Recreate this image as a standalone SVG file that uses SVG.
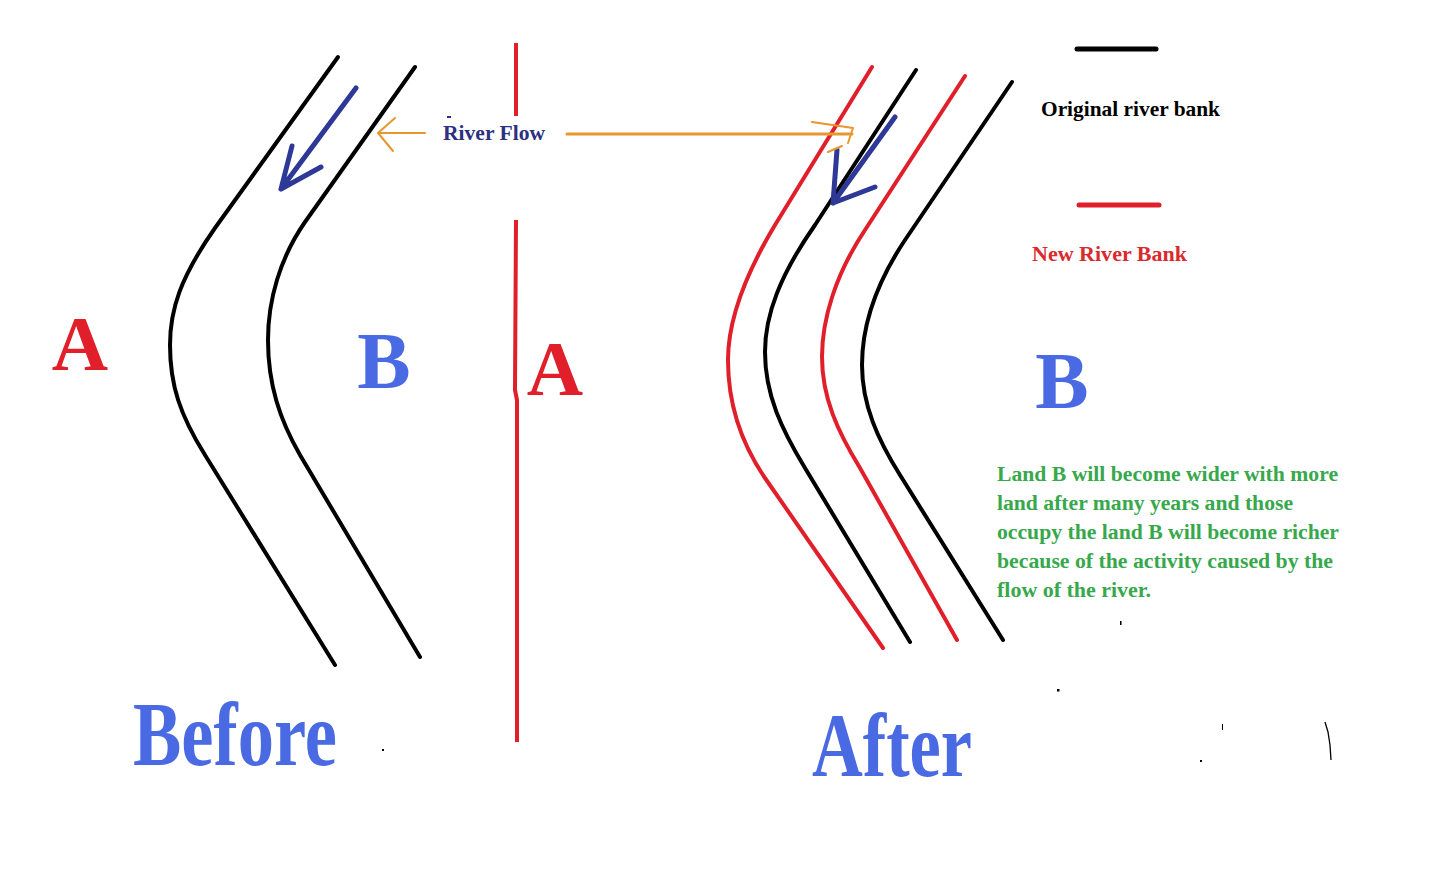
<svg xmlns="http://www.w3.org/2000/svg" width="1434" height="870" viewBox="0 0 1434 870">
<style>
.bank{fill:none;stroke-width:4;stroke-linecap:round;stroke-linejoin:round}
.blk{stroke:#000}
.red{stroke:#e01f2a}
.flow{fill:none;stroke:#2e3896;stroke-width:5;stroke-linecap:round;stroke-linejoin:round}
.org{fill:none;stroke:#e8962e;stroke-linecap:round;stroke-linejoin:round}
.big{font-family:"Liberation Serif",serif;font-weight:bold}
.lbl{font-family:"Liberation Serif",serif;font-weight:bold;font-size:21px}
.grn{font-family:"Liberation Serif",serif;font-weight:bold;font-size:20px;fill:#37a84c}
</style>
<rect width="1434" height="870" fill="#fff"/>
<g id="before-banks">
<path class="bank blk" d="M338,57 L215,228 C180,278 170,310 170,345 C170,385 180,415 205,455 L335,665"/>
<path class="bank blk" d="M415,67 L305,222 C280,258 268,300 268,340 C268,385 280,420 300,455 L420,657"/>
</g>
<g id="after-banks">
<path class="bank red" d="M872,67 L775,225 C745,275 728,320 728,360 C728,400 739,440 765,478 L883,648"/>
<path class="bank blk" d="M916,70 L815,225 C780,275 765,315 765,352 C765,395 782,430 805,468 L910,642"/>
<path class="bank red" d="M965,76 L865,230 C835,275 822,320 822,357 C822,398 838,432 860,468 L957,640"/>
<path class="bank blk" d="M1012,82 L905,240 C875,285 862,325 862,365 C862,405 878,440 900,475 L1003,640"/>
</g>
<g id="divider">
<path d="M516,43 L516,116" stroke="#e01f2a" stroke-width="4" fill="none"/>
<path d="M516,220 L515,390 L517,400 L517,742" stroke="#e01f2a" stroke-width="4" fill="none"/>
</g>
<g id="connectors">
<path class="flow" d="M356,88 L281,189 M292,146 L281,189 L321,167"/>
<path class="flow" d="M895,117 L833,203 M837,150 L833,203 L875,187"/>
<path class="org" stroke-width="2" d="M425,133 L378,133 M395,118 L378,133 L393,151"/>
<path class="org" stroke-width="3" stroke="#d9903f" d="M567,134 L852,134"/>
<path class="org" stroke-width="2" d="M812,122 L853,128 L848,143 M828,152 L842,146"/>
</g>
<g id="labels">
<text class="big" x="80" y="370" font-size="78" fill="#e01f2a" text-anchor="middle">A</text>
<text class="big" x="384" y="388" font-size="80" fill="#4a6ae3" text-anchor="middle">B</text>
<text class="big" x="555" y="395" font-size="78" fill="#e01f2a" text-anchor="middle">A</text>
<text class="big" x="1062" y="408" font-size="80" fill="#4a6ae3" text-anchor="middle">B</text>
<text class="big" x="133" y="765" font-size="90" fill="#4a6ae3" textLength="204" lengthAdjust="spacingAndGlyphs">Before</text>
<text class="big" x="812" y="776" font-size="90" fill="#4a6ae3" textLength="160" lengthAdjust="spacingAndGlyphs">After</text>
<text class="lbl" x="443" y="140" fill="#2b3080" textLength="102" lengthAdjust="spacingAndGlyphs">River Flow</text>
<rect x="447" y="116" width="4" height="2" fill="#2b3080"/>
</g>
<g id="legend">
<path d="M1077,49 L1156,49" stroke="#000" stroke-width="5" stroke-linecap="round"/>
<text class="lbl" x="1041" y="116" fill="#000" textLength="179" lengthAdjust="spacingAndGlyphs">Original river bank</text>
<path d="M1079,205 L1159,205" stroke="#e01f2a" stroke-width="5" stroke-linecap="round"/>
<text class="lbl" x="1032" y="261" fill="#d92a2e" textLength="155" lengthAdjust="spacingAndGlyphs">New River Bank</text>
</g>
<g id="note">
<text class="grn" x="997" y="481" textLength="341" lengthAdjust="spacingAndGlyphs">Land B will become wider with more</text>
<text class="grn" x="997" y="510" textLength="296" lengthAdjust="spacingAndGlyphs">land after many years and those</text>
<text class="grn" x="997" y="539" textLength="342" lengthAdjust="spacingAndGlyphs">occupy the land B will become richer</text>
<text class="grn" x="997" y="568" textLength="336" lengthAdjust="spacingAndGlyphs">because of the activity caused by the</text>
<text class="grn" x="997" y="597" textLength="154" lengthAdjust="spacingAndGlyphs">flow of the river.</text>
</g>
<g id="specks" fill="#000">
<rect x="1120" y="621" width="1.5" height="4"/>
<rect x="1057" y="689" width="2.5" height="2.5"/>
<rect x="382" y="749" width="2" height="2"/>
<rect x="1222" y="724" width="1" height="6"/>
<rect x="1200" y="760" width="2" height="2"/>
<path d="M1325,722 L1328,732 L1330,745 L1331,760" stroke="#000" stroke-width="1.3" fill="none"/>
</g>
</svg>
